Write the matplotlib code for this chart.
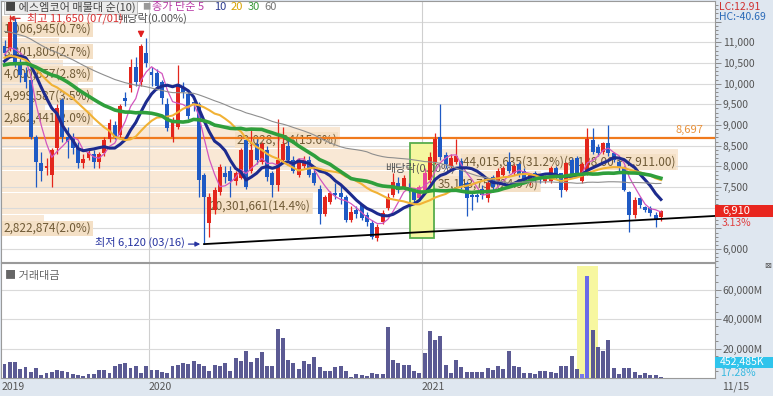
import matplotlib.pyplot as plt
import matplotlib.transforms as mtransforms
from matplotlib.patches import Rectangle
import numpy as np
import pandas as pd

plt.rcParams['font.family'] = ['Noto Sans CJK KR', 'DejaVu Sans']

# 에스엠코어 주봉 (2019-06-24 ~ 2021-11-15)
opens = [10900, 10850, 11500, 10500, 10250, 10100, 8700, 8080, 7950, 7800,
         8450, 9600, 8700, 8700, 8450, 8080, 8200, 8300, 8100, 8330,
         8650, 9000, 8750, 9650, 9900, 10400, 10030, 10750, 10280, 10250,
         10050, 9520, 8700, 8950, 9900, 9750, 9550, 9500, 7780, 6630,
         6940, 7370, 7850, 7900, 7650, 7730, 8630, 7900, 8550, 8100,
         8400, 7850, 7550, 8150, 8500, 8150, 7800, 8000, 8150, 7850,
         7450, 6850, 7150, 7350, 7350, 7250, 6700, 6950, 7060, 6820,
         6630, 6270, 6650, 6990, 7300, 7590, 7490, 7500, 7380, 7230,
         7430, 7660, 8100, 8700, 8280, 8000, 8100, 8140, 7590, 7300,
         7300, 7450, 7230, 7750, 7650, 7800, 8100, 7850, 8050, 7900,
         7620, 7850, 7750, 7650, 7650, 7950, 7830, 7420, 8150, 8200,
         7650, 7830, 8630, 8460, 8340, 8560, 8320, 8100, 7980, 7370,
         6820, 7230, 7010, 6990, 6820, 6780]
highs = [11050, 11650, 11600, 10700, 10400, 10150, 8750, 8350, 8200, 8450,
         9500, 9650, 8950, 8800, 8600, 8300, 8450, 8400, 8350, 8700,
         9150, 9100, 9500, 9800, 10600, 10650, 10950, 11100, 10400, 10350,
         10100, 9650, 9200, 10450, 10050, 9850, 9600, 9550, 7850, 7350,
         7500, 8050, 8000, 8000, 7900, 8450, 8700, 8920, 8650, 8600,
         8500, 7900, 9150, 8950, 8700, 8250, 8200, 8250, 8250, 7950,
         7550, 7300, 7400, 7600, 7550, 7300, 7050, 7050, 7100, 6900,
         6700, 6600, 6950, 7350, 7830, 7750, 7800, 7600, 7450, 7550,
         7950, 8350, 8800, 9520, 8350, 8300, 8670, 8200, 7650, 7400,
         7350, 7550, 7650, 7800, 7950, 8000, 8350, 8050, 8100, 7950,
         7850, 7900, 7800, 7800, 8000, 8000, 7850, 8100, 8200, 8250,
         8100, 8940, 8920, 8550, 8600, 8990, 8350, 8150, 8000, 7400,
         7250, 7250, 7050, 7050, 6900, 6950]
lows = [10650, 10800, 10400, 10050, 9900, 8650, 7500, 7650, 7800, 7500,
        8300, 8600, 8200, 8300, 7950, 7950, 8150, 7950, 7950, 8250,
        8600, 8650, 8700, 9450, 9800, 9950, 9950, 10400, 9950, 9850,
        9500, 8850, 8600, 8900, 9650, 9150, 9350, 7250, 6120, 6300,
        6850, 7300, 7600, 7250, 7550, 7700, 7450, 7850, 8050, 8050,
        7650, 7250, 7400, 8100, 8100, 7850, 7750, 7950, 7750, 7550,
        6600, 6800, 7100, 7200, 7100, 6650, 6650, 6750, 6700, 6550,
        6250, 6200, 6600, 6950, 7250, 7350, 7450, 7380, 7100, 7200,
        7400, 7600, 8050, 8150, 7950, 7950, 8050, 7450, 6800, 6950,
        7150, 7200, 7150, 7400, 7600, 7750, 7850, 7800, 7750, 7600,
        7550, 7650, 7600, 7600, 7600, 7700, 7250, 7400, 7750, 7800,
        7600, 7800, 8300, 8250, 8300, 8250, 8100, 7900, 7400, 6410,
        6750, 7000, 6900, 6800, 6530, 6680]
closes = [10750, 11500, 10500, 10200, 10050, 8700, 8100, 7900, 8000, 8400,
          9400, 8700, 8580, 8450, 8080, 8170, 8340, 8100, 8300, 8630,
          9060, 8720, 9470, 9580, 10400, 10030, 10920, 10500, 10200, 9950,
          9660, 8920, 9100, 10000, 9800, 9230, 9480, 7660, 7250, 7250,
          7420, 7980, 7750, 7650, 7850, 8390, 7490, 8400, 8150, 8550,
          7750, 7550, 8150, 8550, 8150, 7900, 8150, 8150, 7800, 7600,
          6850, 7250, 7350, 7300, 7250, 6700, 6890, 6850, 6750, 6650,
          6300, 6530, 6870, 7250, 7610, 7420, 7710, 7420, 7190, 7490,
          7850, 8220, 8670, 8220, 8050, 8200, 8250, 7490, 7230, 7250,
          7250, 7300, 7600, 7500, 7900, 7950, 7900, 8000, 7800, 7650,
          7800, 7700, 7700, 7750, 7950, 7750, 7420, 8070, 7800, 7850,
          8050, 8670, 8340, 8320, 8560, 8320, 8150, 7950, 7420, 6820,
          7180, 7060, 6940, 6870, 6700, 6910]
# 화면 이전 60주 종가 (이동평균 시작값 추정용)
prior_closes = [12300, 12500, 12650, 12400, 12200, 12450, 12600, 12300, 12100, 11950,
                12200, 12350, 12100, 11900, 12050, 12250, 12100, 11850, 11700, 11900,
                12150, 12000, 11800, 11950, 12100, 11900, 11750, 11950, 12050, 11850,
                11200, 10800, 10400, 10100, 9900, 9800, 9700, 9850, 10000, 10150,
                10400, 10600, 10800, 11000, 10900, 10700, 10650, 10500, 10600, 10750,
                10600, 10450, 10300, 10250, 10400, 10550, 10650, 10700, 10600, 10800]
# 거래대금 (백만원)
trade_value = [9700, 10800, 10800, 5900, 7500, 4300, 6800, 2000, 3600, 4300,
               5400, 4500, 3800, 2700, 2000, 1600, 2500, 2500, 5400, 5400,
               3600, 8100, 9300, 10200, 6800, 8100, 3600, 8100, 5200, 5400,
               4300, 3600, 8100, 9000, 10200, 9300, 11300, 9700, 8100, 4800,
               9000, 8100, 10200, 4800, 13600, 11700, 18000, 10800, 13600, 17600,
               8100, 8100, 33000, 27100, 12000, 10400, 6100, 11700, 9700, 14500,
               7300, 4800, 4800, 7500, 8100, 4800, 700, 2500, 2000, 1400,
               3100, 2700, 2700, 34800, 12200, 10400, 8600, 8600, 4500, 3200,
               17200, 31700, 25800, 28300, 8600, 3200, 12000, 7700, 4300, 4300,
               3800, 3800, 6800, 5600, 7900, 6100, 18500, 8400, 7500, 3200,
               3400, 2700, 5000, 4500, 3800, 3200, 7900, 8400, 14900, 6100,
               3000, 69200, 32700, 21200, 18300, 25500, 6800, 2500, 6800, 6800,
               3800, 1800, 3200, 2000, 2000, 452]

# 매물대 거래량 (아래 구간부터)
band_volume = [2822874, 20301661, 35143750, 44015635, 22028734,
               2862441, 4999587, 4000657, 3801805, 1006945]
band_note = {3: '(8,138.00 ~ 7,911.00)'}

ma_periods = [5, 10, 20, 30, 60]
ma_colors = ['#d256bf', '#1d2b8e', '#f1b235', '#2f9f3c', '#8e8e8e']
ma_widths = [0.9, 2.2, 1.5, 2.6, 0.8]

year_labels = ['2019', '2020', '2021']
year_start = [0, 28, 80]
exdiv_weeks = [26, 79]
resist = 8697
last_date = '11/15'

W, H = 773, 396


def fx(px):
    return px / W


def fy(py):
    return 1 - py / H


fig = plt.figure(figsize=(W / 100, H / 100), dpi=100, facecolor='#dfe7f0')
ax = fig.add_axes([fx(1), fy(262), 714 / W, 261 / H])
axv = fig.add_axes([fx(1), fy(378), 714 / W, 115 / H])

o = np.array(opens)
c = np.array(closes)
hi = np.array(highs)
lo = np.array(lows)
x = np.arange(len(c))
xmin, xmax = -0.67, 135.3

# 매물대 구간 (종가 최저 ~ 고가 최고, 10등분)
bv = np.array(band_volume)
band_pct = bv / bv.sum() * 100
edges = np.linspace(c.min(), hi.max(), len(bv) + 1)
blend = mtransforms.blended_transform_factory(ax.transAxes, ax.transData)
scale = 0.948 / band_pct.max()
for k, pct in enumerate(band_pct):
    b0, b1 = edges[k], edges[k + 1]
    w = pct * scale
    ax.add_patch(Rectangle((0, b0 + 15), w, b1 - b0 - 30, transform=blend,
                           facecolor='#f9e8d5', edgecolor='none', zorder=0))
    txt = f'{bv[k]:,}({pct:.1f}%)' + band_note.get(k, '')
    ym = (b0 + b1) / 2 - 70
    if pct >= 10:
        ax.text(w - 0.004, ym, txt, transform=blend, ha='right', va='center',
                fontsize=8.5, color='#6f5a36', zorder=1,
                bbox=dict(boxstyle='square,pad=0.12', fc='#f4e0c6', ec='none'))
    else:
        ax.text(0.004, ym, txt, transform=blend, ha='left', va='center',
                fontsize=8.5, color='#6f5a36', zorder=1,
                bbox=dict(boxstyle='square,pad=0.12', fc='#f4e0c6', ec='none'))

# grid
for v in range(6000, 12000, 500):
    ax.axhline(v, color='#dadada', lw=0.8, zorder=0.5)
for ys in year_start[1:]:
    ax.axvline(ys - 0.5, color='#cfcfcf', lw=0.8, zorder=0.5)
    axv.axvline(ys - 0.5, color='#cfcfcf', lw=0.8, zorder=0.5)
for v in range(20000, 80000, 20000):
    axv.axhline(v, color='#dadada', lw=0.8, zorder=0.5)

# 강조 구간
ax.add_patch(Rectangle((77.2, 6267), 4.6, 2298, facecolor='#f5f7a0',
                       edgecolor='#58ad4c', lw=1.3, zorder=1.5))
axv.add_patch(Rectangle((109.05, 0), 3.95, 76000, facecolor='#f7f7a0',
                        edgecolor='none', zorder=0.6))

# candles
up = '#e3261d'
down = '#1f5ac4'
pink = '#e84a9c'
colors = [up if cc >= oo else down for oo, cc in zip(o, c)]
for w in exdiv_weeks[1:]:
    colors[w] = pink
    colors[w + 1] = pink
ax.vlines(x, lo, hi, colors=colors, lw=0.9, zorder=3)
ax.bar(x, np.maximum(np.abs(c - o), 14), bottom=np.minimum(o, c), width=0.74,
       color=colors, zorder=3)

# moving averages (앞 60주 포함 계산)
s = pd.Series(prior_closes + closes)
n0 = len(prior_closes)
for p, col, lw in zip(ma_periods, ma_colors, ma_widths):
    ma = s.rolling(p, min_periods=1).mean().iloc[n0:].to_numpy()
    ax.plot(x, ma, color=col, lw=lw, zorder=4)

# 저항선 / 추세선
ax.axhline(resist, color='#f07a1d', lw=1.6, zorder=2)
ax.text(133, resist + 60, f'{resist:,}', color='#e8913a', fontsize=8,
        ha='right', va='bottom', zorder=5)
ax.plot([38, 135.3], [6120, 6801], color='black', lw=1.3, zorder=4)

ax.set_xlim(xmin, xmax)
ax.set_ylim(5687, 12000)
axv.set_xlim(xmin, xmax)
axv.set_ylim(0, 78000)

# volume bars
vcol = ['#5b5a93'] * len(trade_value)
vcol[110] = '#7b7bea'
vcol[111] = '#6b6be8'
axv.bar(x, trade_value, width=0.74, color=vcol, zorder=3)

for a in (ax, axv):
    a.set_facecolor('white')
    a.set_xticks([])
    a.yaxis.tick_right()
    for sp in a.spines.values():
        sp.set_color('#9a9a9a')
        sp.set_linewidth(0.8)
    a.tick_params(axis='y', which='both', colors='#8a8a8a', labelcolor='#555555',
                  labelsize=7.5, pad=1.5, length=4, width=0.7)
    a.tick_params(axis='y', which='minor', length=2)

# 가려지는 눈금값(11,500 / 7,000 / 6,500)은 비움
price_ticks = list(range(6000, 11501, 500))
ax.set_yticks(price_ticks)
ax.set_yticklabels(['' if v in (6500, 7000, 11500) else f'{v:,}' for v in price_ticks])
ax.set_yticks(range(5700, 12000, 100), minor=True)
axv.set_yticks(range(20000, 60001, 20000))
axv.set_yticklabels([f'{v:,}M' for v in range(20000, 60001, 20000)])
axv.set_yticks(range(5000, 76000, 5000), minor=True)

# 범례
ax.text(0.006, 0.975, '■ 에스엠코어 매물대 순(10)', transform=ax.transAxes,
        fontsize=8, color='#444444', va='center', zorder=6,
        bbox=dict(boxstyle='square,pad=0.12', fc='#ececec', ec='#b0b0b0', lw=0.6))
ax.text(0.198, 0.977, '■', transform=ax.transAxes, fontsize=6, color='#999999',
        va='center', zorder=6)
leg_x = [0.212, 0.299, 0.322, 0.345, 0.369]
leg_txt = ['종가 단순 5', '10', '20', '30', '60']
leg_col = ['#b83aa6', '#2a3a8f', '#d8a300', '#3a9a3a', '#777777']
for lx, t, col in zip(leg_x, leg_txt, leg_col):
    ax.text(lx, 0.977, t, transform=ax.transAxes, fontsize=8, color=col,
            va='center', zorder=6)

# 최고 / 최저 / 배당락
ax.annotate('', xy=(0.3, 11580), xytext=(3.5, 11580),
            arrowprops=dict(arrowstyle='-|>', color='#d83030', lw=0.9,
                            mutation_scale=7), zorder=6)
ax.text(4.2, 11580, '최고 11,650 (07/01)', fontsize=8, color='#d83030',
        va='center', zorder=6)
ax.text(21.5, 11580, '배당락(0.00%)', fontsize=8, color='#555555',
        va='center', zorder=5)
ax.annotate('', xy=(exdiv_weeks[0], 11040), xytext=(exdiv_weeks[0], 11300),
            arrowprops=dict(arrowstyle='-|>', color='#e02020', lw=1.0,
                            mutation_scale=9), zorder=6)
ax.text(72.5, 7940, '배당락(0.00%)', fontsize=8, color='#555555',
        va='center', zorder=2)
ax.annotate('', xy=(37.8, 6120), xytext=(34.5, 6120),
            arrowprops=dict(arrowstyle='-|>', color='#2633a0', lw=0.9,
                            mutation_scale=7), zorder=6)
ax.text(17.3, 6160, '최저 6,120 (03/16)', fontsize=8, color='#2633a0',
        va='center', zorder=6)

axv.text(0.006, 0.89, '■ 거래대금', transform=axv.transAxes, fontsize=8,
         color='#666666', va='center')

# x 라벨
for lab, ys in zip(year_labels, year_start):
    px = 4.5 + 5.25 * (ys - 0.5)
    fig.text(fx(max(px, 2)), fy(387), lab, fontsize=7.5, color='#555555',
             ha='left', va='center')
fig.text(fx(722), fy(387), last_date, fontsize=7.5, color='#555555',
         ha='left', va='center')

# 우측 정보
fig.text(fx(719), fy(7), 'LC:12.91', fontsize=7.5, color='#d03030', va='center')
fig.text(fx(719), fy(17), 'HC:-40.69', fontsize=7.5, color='#2a6ab8', va='center')
fig.patches.append(Rectangle((fx(715), fy(217.5)), 58 / W, 12.5 / H,
                             transform=fig.transFigure, facecolor='#e8261f',
                             edgecolor='none', zorder=5))
fig.text(fx(722), fy(211.3), f'{closes[-1]:,}', fontsize=8, color='white',
         va='center', zorder=6)
fig.text(fx(722), fy(223), '3.13%', fontsize=7.5, color='#e04040', va='center',
         zorder=6)
fig.patches.append(Rectangle((fx(715), fy(367.5)), 58 / W, 11 / H,
                             transform=fig.transFigure, facecolor='#2fc4ec',
                             edgecolor='none', zorder=5))
fig.text(fx(720), fy(362), '452,485K', fontsize=7.5, color='white',
         va='center', zorder=6)
fig.text(fx(720), fy(373), '17.28%', fontsize=7.5, color='#36b8e0',
         va='center', zorder=6)
fig.text(fx(768), fy(266), '⊠', fontsize=6, color='#555555', ha='center',
         va='center', family='DejaVu Sans')

fig.savefig('out.png', dpi=100, facecolor=fig.get_facecolor())
